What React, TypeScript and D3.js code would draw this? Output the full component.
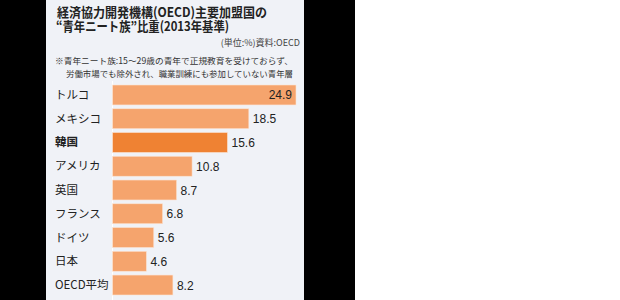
import React from "react";
import * as d3 from "d3";

const categories = ["トルコ", "メキシコ", "韓国", "アメリカ", "英国", "フランス", "ドイツ", "日本", "OECD平均"];
const values = [24.9, 18.5, 15.6, 10.8, 8.7, 6.8, 5.6, 4.6, 8.2];
const valueLabels = ["24.9", "18.5", "15.6", "10.8", "8.7", "6.8", "5.6", "4.6", "8.2"];
const highlight = "韓国";
const titleLines = ["経済協力開発機構(OECD)主要加盟国の", "“青年ニート族”比重(2013年基準)"];
const sourceText = "(単位:%)資料:OECD";
const noteLines = ["※青年ニート族:15～29歳の青年で正規教育を受けておらず、", "労働市場でも除外され、職業訓練にも参加していない青年層"];

const W = 620;
const H = 300;
const FONT = "'Noto Sans CJK JP', 'Noto Sans', sans-serif";

export default function App() {
  const x = d3.scaleLinear().domain([0, 24.9]).range([112.5, 296]);
  const y = d3.scaleBand<string>().domain(categories).range([85, 295]).paddingInner(0.16).paddingOuter(0);
  const bw = y.bandwidth();

  return (
    <div style={{ position: "fixed", left: 0, top: 0 }}>
      <svg width={W} height={H} style={{ display: "block" }}>
        <rect x={0} y={0} width={W} height={H} fill="#ffffff" />
        <rect x={0} y={0} width={46} height={H} fill="#000000" />
        <rect x={46} y={0} width={258} height={H} fill="#f0f2f7" />
        <rect x={304} y={0} width={51} height={H} fill="#000000" />

        <text x={57} y={17} fontFamily={FONT} fontWeight={700} fontSize={13} fill="#222" textLength={210} lengthAdjust="spacingAndGlyphs">{titleLines[0]}</text>
        <text x={56} y={31} fontFamily={FONT} fontWeight={700} fontSize={13} fill="#222" textLength={173} lengthAdjust="spacingAndGlyphs">{titleLines[1]}</text>
        <text x={300} y={46} textAnchor="end" fontFamily={FONT} fontSize={9} fill="#444">{sourceText}</text>
        <text x={55} y={63.5} fontFamily={FONT} fontSize={8.5} fill="#333" textLength={238} lengthAdjust="spacingAndGlyphs">{noteLines[0]}</text>
        <text x={66} y={77} fontFamily={FONT} fontSize={8.5} fill="#333" textLength={227} lengthAdjust="spacingAndGlyphs">{noteLines[1]}</text>

        <line x1={x(0)} x2={x(0)} y1={81} y2={H} stroke="#ffffff" strokeWidth={1} />

        {categories.map((c, i) => {
          const v = values[i];
          const y0 = y(c) as number;
          const isHi = c === highlight;
          const inside = i === 0;
          return (
            <g key={c}>
              <rect x={x(0)} y={y0} width={x(v) - x(0)} height={bw} fill={isHi ? "#ef8233" : "#f5a46d"} stroke="#fbe3d3" strokeWidth={0.6} />
              <text x={55} y={y0 + bw / 2 + 4} fontFamily={FONT} fontSize={11.5} fontWeight={isHi ? 700 : 400} fill="#222">{c}</text>
              <text
                x={inside ? x(v) - 4 : x(v) + 4}
                y={y0 + bw / 2 + 4.5}
                textAnchor={inside ? "end" : "start"}
                fontFamily="'Liberation Sans', Arial, sans-serif"
                fontSize={12}
                fill="#222"
              >{valueLabels[i]}</text>
            </g>
          );
        })}
      </svg>
    </div>
  );
}
